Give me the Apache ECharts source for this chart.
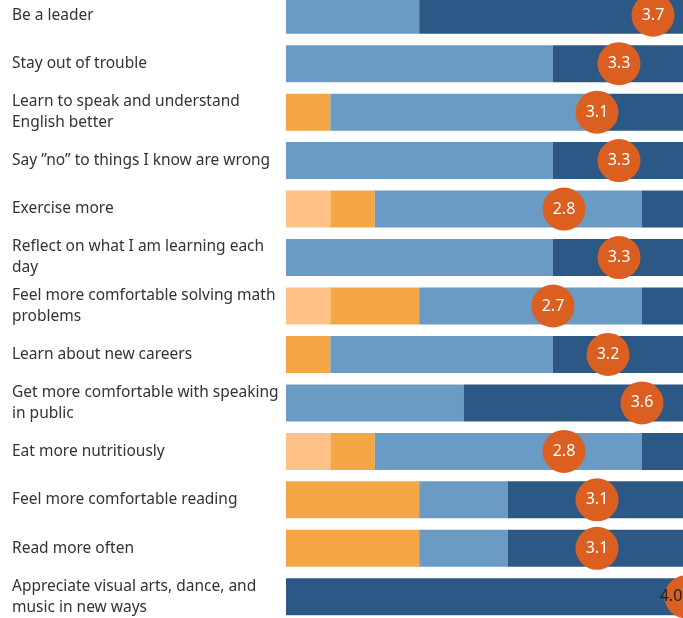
<!DOCTYPE html>
<html>
<head>
<meta charset="utf-8">
<script src="https://cdn.jsdelivr.net/npm/echarts@6/dist/echarts.min.js"></script>
<style>
  html, body { margin: 0; padding: 0; background: #fff; }
  #chart { width: 683px; height: 618px; }
</style>
</head>
<body>
<div id="chart"></div>
<script>
// Survey items, top to bottom (labels pre-wrapped as in the source)
var categories = [
    "Be a leader",
    "Stay out of trouble",
    "Learn to speak and understand\nEnglish better",
    "Say \u201dno\u201d to things I know are wrong",
    "Exercise more",
    "Reflect on what I am learning each\nday",
    "Feel more comfortable solving math\nproblems",
    "Learn about new careers",
    "Get more comfortable with speaking\nin public",
    "Eat more nutritiously",
    "Feel more comfortable reading",
    "Read more often",
    "Appreciate visual arts, dance, and\nmusic in new ways"
];

// Share of responses (%) per rating, 1 = lowest, 4 = highest
var rating1 = [0, 0, 0, 0, 11.1, 0, 11.1, 0, 0, 11.1, 0, 0, 0];
var rating2 = [0, 0, 11.1, 0, 11.1, 0, 22.2, 11.1, 0, 11.1, 33.3, 33.3, 0];
var rating3 = [33.3, 66.7, 66.7, 66.7, 66.7, 66.7, 55.6, 55.6, 44.4, 66.7, 22.2, 22.2, 0];
var rating4 = [66.7, 33.3, 22.2, 33.3, 11.1, 33.3, 11.1, 33.3, 55.6, 11.1, 44.4, 44.4, 100];

// Average rating (0-4 scale)
var averages = [3.67, 3.33, 3.11, 3.33, 2.78, 3.33, 2.67, 3.22, 3.56, 2.78, 3.11, 3.11, 4.0];

var colors = {
    r1: "#FFC286",
    r2: "#F4A646",
    r3: "#6A9BC4",
    r4: "#2C5885",
    avg: "#DB5F20"
};

function barSeries(name, data, color) {
    return {
        name: name,
        type: "bar",
        stack: "share",
        data: data,
        barWidth: 37,
        itemStyle: { color: color },
        emphasis: { disabled: true },
        silent: true
    };
}

var avgData = averages.map(function (v, i) {
    var item = { value: [v, i] };
    // last circle runs off the edge; its label sits inside, in dark text
    if (i === averages.length - 1) {
        item.label = { color: "#222", offset: [-15, 0] };
    }
    return item;
});

var chart = echarts.init(document.getElementById("chart"), null, { renderer: "canvas" });
chart.setOption({
    animation: false,
    textStyle: { fontFamily: "Noto Sans" },
    grid: {
        left: 286, right: -3, top: -9, height: 630,
        containLabel: false,
        outerBoundsMode: "none"
    },
    xAxis: [
        { type: "value", min: 0, max: 100, show: false },
        { type: "value", min: 0, max: 4, show: false }
    ],
    yAxis: {
        type: "category",
        data: categories,
        inverse: true,
        axisLine: { show: false },
        axisTick: { show: false },
        splitLine: { show: false },
        axisLabel: {
            align: "left",
            margin: 274,
            color: "#333",
            fontSize: 15.5,
            lineHeight: 21,
            fontFamily: "Noto Sans"
        }
    },
    series: [
        barSeries("1", rating1, colors.r1),
        barSeries("2", rating2, colors.r2),
        barSeries("3", rating3, colors.r3),
        barSeries("4", rating4, colors.r4),
        {
            name: "Average",
            type: "scatter",
            xAxisIndex: 1,
            data: avgData,
            symbol: "circle",
            symbolSize: 43,
            itemStyle: { color: colors.avg, opacity: 1 },
            silent: true,
            label: {
                show: true,
                position: "inside",
                color: "#fff",
                fontSize: 16,
                fontFamily: "Noto Sans",
                formatter: function (p) { return p.value[0].toFixed(1); }
            },
            z: 5
        }
    ]
});
</script>
</body>
</html>
